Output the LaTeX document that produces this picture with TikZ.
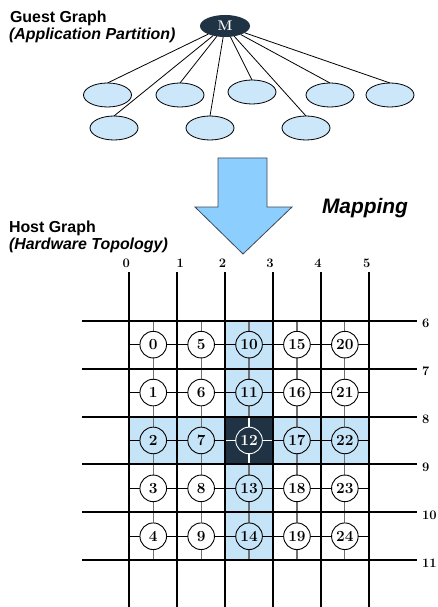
\documentclass[tikz,border=0pt]{standalone}
\usepackage{fontspec}
\setsansfont{Liberation Sans}
\usetikzlibrary{positioning,shapes.geometric}

\definecolor{mnode}{RGB}{31,51,68}
\definecolor{leafblue}{RGB}{204,230,250}
\definecolor{cellblue}{RGB}{198,228,248}
\definecolor{arrowblue}{RGB}{140,207,255}
\definecolor{arrowedge}{RGB}{60,72,86}
\definecolor{meshgray}{RGB}{112,112,112}

\begin{document}
\begin{tikzpicture}[x=1bp,y=-1bp,outer sep=0pt,
  title/.style={
    font={\sffamily\bfseries\fontsize{16}{18}\selectfont},
    inner sep=0pt,
    anchor=base west,
    },
  subtitle/.style={title,font={\sffamily\bfseries\itshape\fontsize{16}{18}\selectfont}},
  master/.style={ellipse,fill=mnode,text=white,minimum width=50bp,minimum height=22bp,
    inner sep=0pt,font={\bfseries\fontsize{14}{14}\selectfont}},
  leaf/.style={ellipse,draw=black,line width=0.8bp,fill=leafblue,
    minimum width=48bp,minimum height=24bp},
  cell/.style={rectangle,inner sep=0pt,minimum size=47.9bp},
  pe/.style={circle,draw,line width=0.9bp,minimum size=26.6bp,inner sep=0pt,
    font={\bfseries\fontsize{15.5}{15.5}\selectfont}},
  axislabel/.style={inner sep=0pt,font={\bfseries\fontsize{13}{13}\selectfont}},
  wire/.style={line width=2bp},
  ]

  \useasboundingbox[fill=white] (0,0) rectangle (438,607);

  % guest graph: master and its partitions
  \node[title] (guest) at (10,22.7) {Guest Graph};
  \node[subtitle] (guestsub) at (9,39.5) {(Application Partition)};

  \node[master] (M) at (225,26) {M};
  \node[leaf] (g1) at (107.5,95) {};
  \node[leaf] (g2) at (180,95) {};
  \node[leaf] (g3) at (252,92) {};
  \node[leaf] (g4) at (330,95) {};
  \node[leaf] (g5) at (390,95) {};
  \node[leaf] (g6) at (114,128) {};
  \node[leaf] (g7) at (210,128) {};
  \node[leaf] (g8) at (306,128) {};
  \foreach \g in {1,...,8}
    \draw[line width=0.8bp] (M) -- (g\g.north);

  % block arrow
  \draw[fill=arrowblue,draw=arrowedge,line width=0.8bp]
    (218,158) -- (267,158) -- (267,207) -- (292,207) -- (243,254)
    -- (195,207) -- (218,207) -- cycle;
  \node[subtitle,font={\sffamily\bfseries\itshape\fontsize{21}{24}\selectfont}] (mapping) at (322,213) {Mapping};

  % host graph: 5x5 mesh
  \node[title] (host) at (9,232) {Host Graph};
  \node[subtitle] (hostsub) at (9,249.5) {(Hardware Topology)};

  \foreach \k in {0,...,24}{
    \pgfmathtruncatemacro{\pcol}{div(\k,5)}
    \pgfmathtruncatemacro{\prow}{mod(\k,5)}
    \def\cellcol{white}\def\inkcol{black}\def\linkcol{black}\def\meshcol{meshgray}
    \ifnum\pcol=2 \def\cellcol{cellblue}\fi
    \ifnum\prow=2 \def\cellcol{cellblue}\fi
    \ifnum\k=12 \def\cellcol{mnode}\def\inkcol{white}\def\linkcol{white}\def\meshcol{white}\fi
    \node[cell,fill=\cellcol] (c\k) at ({153.25+47.9*\pcol},{344.65+47.9*\prow}) {};
    \draw[draw=\linkcol,line width=0.9bp] (c\k.west) -- (c\k.east);
    \draw[draw=\meshcol,line width=1.2bp] (c\k.north) -- (c\k.south);
    \node[pe,fill=\cellcol,draw=\inkcol,text=\inkcol] (p\k) at (c\k) {\k};
  }

  \foreach \i/\dx in {0/-3,1/3,2/-2.5,3/-3,4/-3,5/-2}{
    \coordinate (vtop\i) at ({129.3+47.9*\i},272);
    \coordinate (vbot\i) at ({129.3+47.9*\i},607);
    \coordinate (hlft\i) at (82,{320.7+47.9*\i});
    \coordinate (hrgt\i) at (417,{320.7+47.9*\i});
    \draw[wire] (vtop\i) -- (vbot\i);
    \draw[wire] (hlft\i) -- (hrgt\i);
    \node[axislabel] (colno\i) at ({129.3+47.9*\i+\dx},263) {\i};
    \pgfmathtruncatemacro{\r}{\i+6}
    \node[axislabel,anchor=west] (rowno\i) at (422,{323.3+47.9*\i}) {\r};
  }

\end{tikzpicture}
\end{document}
